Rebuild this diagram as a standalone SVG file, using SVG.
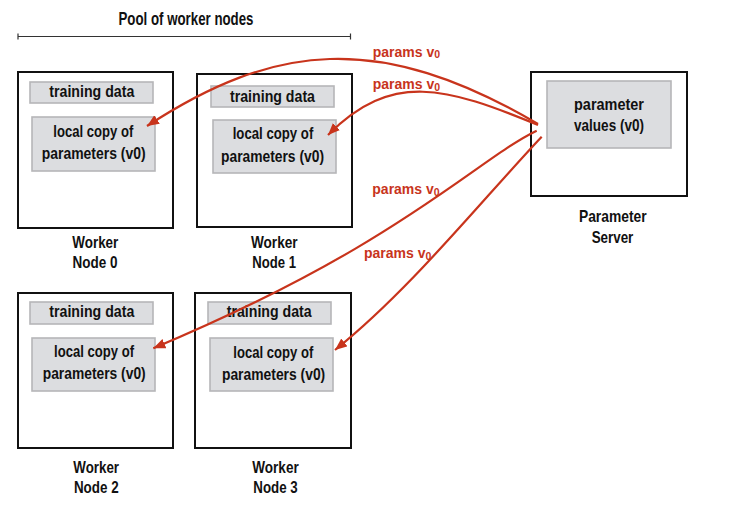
<svg xmlns="http://www.w3.org/2000/svg" width="738" height="510" viewBox="0 0 738 510">
<style>
text{font-family:"Liberation Sans",Arial,sans-serif;font-weight:bold;fill:#111;text-anchor:middle}
.node{fill:#fff;stroke:#111;stroke-width:2}
.inner{fill:#dcdde0;stroke:#b6b6b8;stroke-width:1.6}
.t{font-size:16.5px}
.lbl{font-size:16.5px}
.red{fill:#c8341c;font-size:14px;text-anchor:start}
.sub{font-size:10.5px;fill:#c8341c}
.conn{fill:none;stroke:#c8341c;stroke-width:2.2}
</style>
<defs>
<marker id="ah" markerUnits="userSpaceOnUse" markerWidth="14" markerHeight="12" refX="12" refY="5" orient="auto">
<path d="M0,0 L12,5 L0,10 Z" fill="#c8341c"/>
</marker>
</defs>

<g id="pool-label">
<text x="186" y="25" font-size="18" textLength="135" lengthAdjust="spacingAndGlyphs">Pool of worker nodes</text>
<path d="M18,36.5 H350.5 M18,33.5 V39.5 M350.5,33.5 V39.5" stroke="#333" stroke-width="1.2" fill="none"/>
</g>

<g id="worker0">
<rect class="node" x="18" y="72" width="155" height="156"/>
<rect class="inner" x="30" y="82" width="123" height="21"/>
<text class="t" x="91.8" y="97.3" textLength="85" lengthAdjust="spacingAndGlyphs">training data</text>
<rect class="inner" x="32" y="117" width="123" height="54"/>
<text class="t" x="93.3" y="136.7" textLength="80" lengthAdjust="spacingAndGlyphs">local copy of</text>
<text class="t" x="93.7" y="158.5" textLength="104" lengthAdjust="spacingAndGlyphs">parameters (v0)</text>
<text class="lbl" x="95.3" y="248.3" textLength="46" lengthAdjust="spacingAndGlyphs">Worker</text>
<text class="lbl" x="95" y="268.3" textLength="45" lengthAdjust="spacingAndGlyphs">Node 0</text>
</g>

<g id="worker1">
<rect class="node" x="197" y="74" width="155" height="153"/>
<rect class="inner" x="211" y="86" width="123" height="21"/>
<text class="t" x="272.5" y="101.7" textLength="85" lengthAdjust="spacingAndGlyphs">training data</text>
<rect class="inner" x="213" y="120" width="123" height="53"/>
<text class="t" x="273" y="139.3" textLength="80.6" lengthAdjust="spacingAndGlyphs">local copy of</text>
<text class="t" x="272.5" y="161.5" textLength="103" lengthAdjust="spacingAndGlyphs">parameters (v0)</text>
<text class="lbl" x="274.3" y="248.3" textLength="46.7" lengthAdjust="spacingAndGlyphs">Worker</text>
<text class="lbl" x="274.2" y="268.3" textLength="43.7" lengthAdjust="spacingAndGlyphs">Node 1</text>
</g>

<g id="worker2">
<rect class="node" x="18" y="293" width="155" height="155"/>
<rect class="inner" x="30" y="302" width="123" height="22"/>
<text class="t" x="91.8" y="317.3" textLength="85" lengthAdjust="spacingAndGlyphs">training data</text>
<rect class="inner" x="32" y="338" width="123" height="53"/>
<text class="t" x="94" y="356.7" textLength="80" lengthAdjust="spacingAndGlyphs">local copy of</text>
<text class="t" x="94.2" y="379" textLength="103" lengthAdjust="spacingAndGlyphs">parameters (v0)</text>
<text class="lbl" x="96.2" y="473.3" textLength="45.7" lengthAdjust="spacingAndGlyphs">Worker</text>
<text class="lbl" x="96.3" y="493.3" textLength="44.7" lengthAdjust="spacingAndGlyphs">Node 2</text>
</g>

<g id="worker3">
<rect class="node" x="195" y="293" width="156" height="155"/>
<rect class="inner" x="208" y="302" width="123" height="22"/>
<text class="t" x="269.2" y="317.3" textLength="85" lengthAdjust="spacingAndGlyphs">training data</text>
<rect class="inner" x="210" y="338" width="123" height="53"/>
<text class="t" x="273.3" y="358.3" textLength="80" lengthAdjust="spacingAndGlyphs">local copy of</text>
<text class="t" x="273.6" y="380" textLength="103.3" lengthAdjust="spacingAndGlyphs">parameters (v0)</text>
<text class="lbl" x="275.5" y="473.3" textLength="46.4" lengthAdjust="spacingAndGlyphs">Worker</text>
<text class="lbl" x="275.5" y="493.3" textLength="44.4" lengthAdjust="spacingAndGlyphs">Node 3</text>
</g>

<g id="server">
<rect class="node" x="531" y="72" width="156" height="124"/>
<rect class="inner" x="547" y="81" width="124" height="67"/>
<text class="t" x="609" y="110" textLength="70" lengthAdjust="spacingAndGlyphs">parameter</text>
<text class="t" x="609" y="130.7" textLength="70" lengthAdjust="spacingAndGlyphs">values (v0)</text>
<text class="lbl" x="612.8" y="222.3" textLength="67.7" lengthAdjust="spacingAndGlyphs">Parameter</text>
<text class="lbl" x="612.5" y="243.3" textLength="41.7" lengthAdjust="spacingAndGlyphs">Server</text>
</g>

<g id="connectors">
<path class="conn" d="M538,124 C378,30 273,44 147,126" marker-end="url(#ah)"/>
<path class="conn" d="M538,125 C446,87 392,71 328,135" marker-end="url(#ah)"/>
<path class="conn" d="M536.7,130.7 C476.7,159.5 400,245 153.3,348.3" marker-end="url(#ah)"/>
<path class="conn" d="M541.7,136.7 C481.7,200.3 410,290 335,350" marker-end="url(#ah)"/>
<text class="red" x="372.7" y="56.7">params v<tspan class="sub" dy="1.5">0</tspan></text>
<text class="red" x="372.7" y="89">params v<tspan class="sub" dy="1.5">0</tspan></text>
<text class="red" x="372.3" y="194">params v<tspan class="sub" dy="1.5">0</tspan></text>
<text class="red" x="364" y="258.3">params v<tspan class="sub" dy="1.5">0</tspan></text>
</g>
</svg>
